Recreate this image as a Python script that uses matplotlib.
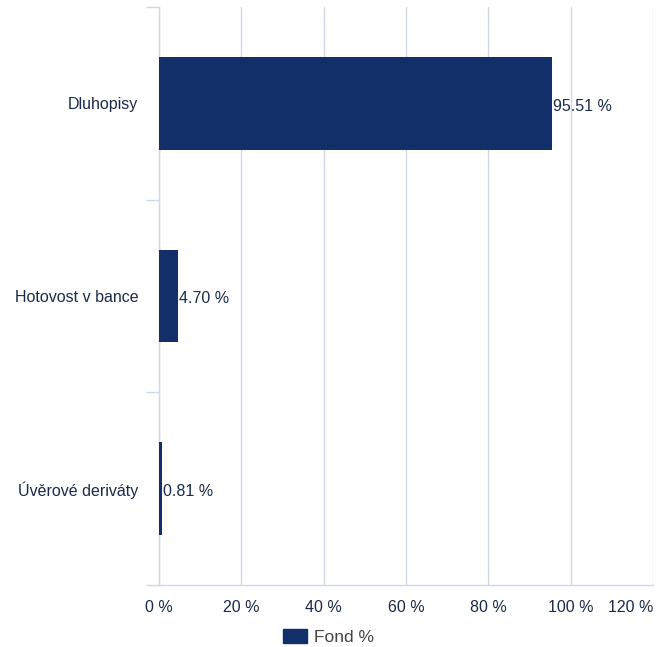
import matplotlib
matplotlib.use("Agg")
import matplotlib.pyplot as plt
from matplotlib.patches import Patch
import numpy as np

categories = ["Dluhopisy", "Hotovost v bance", "Úvěrové deriváty"]
values = [95.51, 4.70, 0.81]
xticks = [0, 20, 40, 60, 80, 100, 120]
xtick_labels = ["0 %", "20 %", "40 %", "60 %", "80 %", "100 %", "120 %"]
series_name = "Fond %"

bar_color = "#132f69"
text_color = "#1b2a4a"
legend_text_color = "#444444"
grid_color = "#cdd8e6"

plt.rcParams["font.family"] = ["Liberation Sans", "DejaVu Sans"]
fs = 11.5

fig = plt.figure(figsize=(6.66, 6.47), dpi=100)
ax = fig.add_axes([159/666, 1-585/647, (653-159)/666, (585-7)/647])

n = len(categories)
ypos = np.arange(n)
ax.barh(ypos, values, height=0.48, color=bar_color, zorder=3)
for y, v in zip(ypos, values):
    ax.text(v + 0.2, y + 0.015, f"{v:.2f} %", va="center", ha="left",
            fontsize=fs, color=text_color, zorder=4)

ax.set_ylim(n - 0.5, -0.5)
ax.set_xlim(0, 120)
ax.set_yticks(ypos)
ax.set_yticklabels(categories)
ax.set_yticks(np.arange(-0.5, n, 1.0), minor=True)
ax.tick_params(axis="y", which="major", length=0, pad=15, labelsize=fs, labelcolor=text_color)
ax.tick_params(axis="y", which="minor", length=9.5, width=1, color=grid_color)

ax.set_xticks(xticks)
ax.set_xticklabels(xtick_labels)
ax.tick_params(axis="x", which="major", length=0, pad=11, labelsize=fs, labelcolor=text_color)
lbls = ax.get_xticklabels()
lbls[-1].set_horizontalalignment("right")

ax.grid(axis="x", color=grid_color, linewidth=1, zorder=0)
for s in ["top", "right"]:
    ax.spines[s].set_visible(False)
ax.spines["left"].set_color(grid_color)
ax.spines["bottom"].set_color(grid_color)
ax.spines["left"].set_linewidth(1)
ax.spines["bottom"].set_linewidth(1)

fig.legend(handles=[Patch(color=bar_color, label=series_name)],
           loc="lower center", bbox_to_anchor=(0.493, -0.021), frameon=False,
           fontsize=12.5, labelcolor=legend_text_color, handlelength=1.38, handleheight=0.95,
           handletextpad=0.42)

fig.savefig("out.png", dpi=100)
